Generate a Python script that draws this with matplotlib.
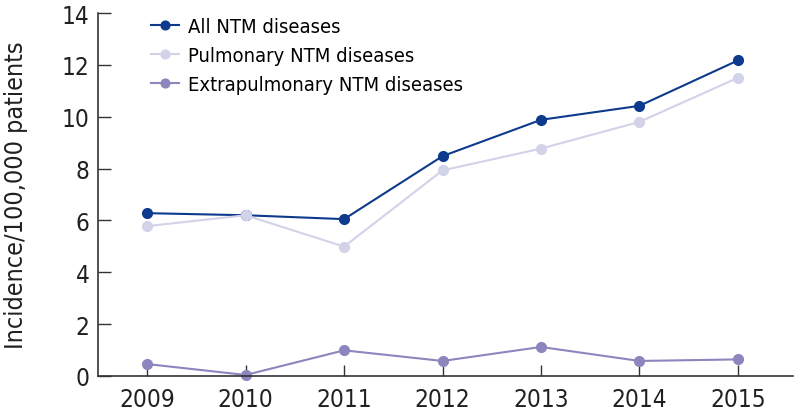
import matplotlib
matplotlib.use("Agg")
import matplotlib.pyplot as plt

years = [2009, 2010, 2011, 2012, 2013, 2014, 2015]
all_ntm = [6.28, 6.2, 6.05, 8.48, 9.88, 10.42, 12.17]
pulmonary = [5.78, 6.2, 4.99, 7.93, 8.77, 9.8, 11.5]
extrapulmonary = [0.46, 0.04, 0.99, 0.58, 1.12, 0.58, 0.64]

series_labels = ["All NTM diseases", "Pulmonary NTM diseases", "Extrapulmonary NTM diseases"]
colors = ["#0d3a8c", "#d2d2e8", "#8c86be"]

plt.rcParams['font.family'] = ['DejaVu Sans']
plt.rcParams['font.stretch'] = 'condensed'

fig = plt.figure(figsize=(7.94, 4.14), dpi=100)
ax = fig.add_axes([98 / 794, 1 - 377 / 414, 695 / 794, 363 / 414])

for vals, lab, c in zip([all_ntm, pulmonary, extrapulmonary], series_labels, colors):
    ax.plot(years, vals, color=c, lw=1.5, marker='o', ms=7, label=lab,
            markeredgecolor=c, clip_on=False)

ax.set_xlim(2008.5, 2015.56)
ax.set_ylim(0, 14)
ax.set_xticks(years)
ax.set_yticks(range(0, 15, 2))
ax.tick_params(axis='both', direction='in', colors='#333333', labelcolor='#231f20',
               labelsize=17.5, width=1)
ax.tick_params(axis='y', length=9, pad=6)
ax.tick_params(axis='x', length=8, pad=8)

for s in ['top', 'right']:
    ax.spines[s].set_visible(False)
for s in ['left', 'bottom']:
    ax.spines[s].set_color('#333333')
    ax.spines[s].set_linewidth(1.2)

ax.set_ylabel("Incidence/100,000 patients", fontsize=18, color='#231f20', labelpad=24)

ax.legend(loc='upper left', bbox_to_anchor=(0.05, 1.04), frameon=False, fontsize=14.5,
          handlelength=1.4, handletextpad=0.45, labelspacing=0.5, markerscale=0.9)

fig.savefig("out.png", dpi=100)
